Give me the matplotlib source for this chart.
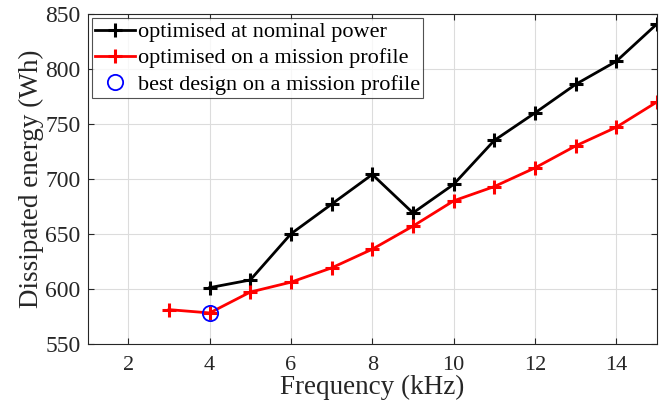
import matplotlib
matplotlib.use("Agg")
import matplotlib.pyplot as plt

freq_nominal = [4, 5, 6, 7, 8, 9, 10, 11, 12, 13, 14, 15]
energy_nominal = [601, 608, 650, 677, 704, 669, 695, 735, 760, 786, 807, 841]
freq_mission = [3, 4, 5, 6, 7, 8, 9, 10, 11, 12, 13, 14, 15]
energy_mission = [581, 578, 597, 606, 619, 636, 657, 680, 693, 710, 730, 747, 770]
best_freq = [4]
best_energy = [578]

plt.rcParams["font.family"] = ["Liberation Serif", "DejaVu Serif"]

fig = plt.figure(figsize=(6.69, 4.08), dpi=100)
ax = fig.add_axes([0.131, 0.1576, 0.851, 0.808])

ax.plot(freq_nominal, energy_nominal, color="black", lw=2, marker="+", ms=10, mew=2.2,
        label="optimised at nominal power")
ax.plot(freq_mission, energy_mission, color="red", lw=2, marker="+", ms=10, mew=2.2,
        label="optimised on a mission profile")
ax.plot(best_freq, best_energy, linestyle="none", marker="o", ms=11, mfc="none",
        mec="blue", mew=1.3, label="best design on a mission profile")

ax.set_xlim(1, 15)
ax.set_ylim(550, 850)
ax.set_xticks([2, 4, 6, 8, 10, 12, 14])
ax.set_yticks([550, 600, 650, 700, 750, 800, 850])
ax.grid(True, color="#dcdcdc", lw=0.8)
ax.set_axisbelow(True)
for s in ax.spines.values():
    s.set_color("#262626")
    s.set_linewidth(0.8)
ax.tick_params(direction="in", length=4, colors="#262626", labelsize=17, pad=5,
               top=True, right=True)
ax.tick_params(axis="x", labelsize=16, pad=9)
ax.set_xlabel("Frequency (kHz)", fontsize=19.5, color="#262626", labelpad=0)
ax.set_ylabel("Dissipated energy (Wh)", fontsize=19.5, color="#262626", labelpad=1)

leg = ax.legend(loc="upper left", fontsize=16, frameon=True, fancybox=False,
                edgecolor="#262626", borderpad=0.15, labelspacing=0.25,
                handlelength=1.8, handletextpad=0.1, borderaxespad=0.2)
leg.get_frame().set_linewidth(0.8)

fig.savefig("out.png", dpi=100)
